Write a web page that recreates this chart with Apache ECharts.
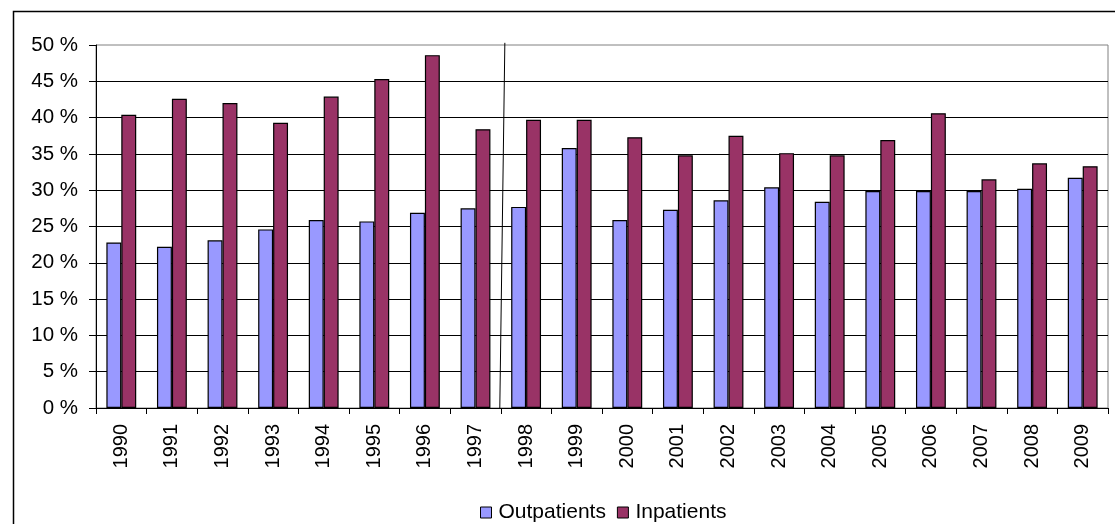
<!DOCTYPE html>
<html>
<head>
<meta charset="utf-8">
<script src="https://cdn.jsdelivr.net/npm/echarts@6/dist/echarts.min.js"></script>
<style>
html,body{margin:0;padding:0;background:#fff;}
#c{width:1115px;height:524px;}
</style>
</head>
<body>
<div id="c"></div>
<script>
const years = ['1990','1991','1992','1993','1994','1995','1996','1997','1998','1999','2000','2001','2002','2003','2004','2005','2006','2007','2008','2009'];
const outpatients = [22.8, 22.2, 23.1, 24.6, 25.9, 25.7, 26.9, 27.5, 27.7, 35.8, 25.9, 27.3, 28.6, 30.4, 28.4, 29.9, 29.9, 29.9, 30.2, 31.7];
const inpatients = [40.4, 42.6, 42.0, 39.3, 42.9, 45.3, 48.6, 38.4, 39.7, 39.7, 37.3, 34.8, 37.5, 35.1, 34.8, 36.9, 40.6, 31.5, 33.7, 33.3];
const yTicks = [0, 5, 10, 15, 20, 25, 30, 35, 40, 45, 50];
// divider line between 1997 and 1998 (x in category units, y in %)
const dividerX = [7.98, 8.08];
const dividerY = [0, 50.3];

const chart = echarts.init(document.getElementById('c'), null, {renderer: 'canvas'});
const font = 'Liberation Sans, Arial, sans-serif';
chart.setOption({
  backgroundColor: '#fff',
  animation: false,
  graphic: [{
    type: 'rect', left: 11, top: 9, silent: true, z: -1,
    shape: {width: 1120, height: 530},
    style: {fill: 'none', stroke: '#000', lineWidth: 1.5}
  }],
  grid: {left: 96, right: 7, top: 45, bottom: 116, show: true, borderColor: '#808080', borderWidth: 1, backgroundColor: 'transparent'},
  legend: {
    top: 497, left: 475,
    icon: 'rect', itemWidth: 11, itemHeight: 11, itemGap: 11,
    itemStyle: {borderColor: '#000', borderWidth: 1},
    textStyle: {fontFamily: font, fontSize: 21, color: '#000', padding: [0,0,0,2]},
    data: ['Outpatients', 'Inpatients']
  },
  xAxis: [{
    type: 'category', data: years, boundaryGap: true,
    axisLine: {lineStyle: {color: '#000', width: 1}},
    axisTick: {show: true, length: 6, lineStyle: {color: '#000'}},
    axisLabel: {rotate: 90, interval: 0, margin: 16, fontFamily: font, fontSize: 20, color: '#000'},
    splitLine: {show: false}
  }, {
    type: 'value', min: 0, max: 20, show: false
  }],
  yAxis: {
    type: 'value', min: 0, max: 50, interval: 5,
    axisLine: {show: true, lineStyle: {color: '#000', width: 1}},
    axisTick: {show: true, length: 7, lineStyle: {color: '#000'}},
    axisLabel: {margin: 18, fontFamily: font, fontSize: 20.5, color: '#000',
      formatter: v => yTicks.includes(v) ? v + ' %' : ''},
    splitLine: {show: true, showMaxLine: false, lineStyle: {color: '#000', width: 1}}
  },
  series: [{
    name: 'Outpatients', type: 'bar', data: outpatients,
    barGap: '0%', barCategoryGap: '41%',
    itemStyle: {color: '#9999FF', borderColor: '#000', borderWidth: 1.2}
  }, {
    name: 'Inpatients', type: 'bar', data: inpatients,
    barGap: '0%', barCategoryGap: '41%',
    itemStyle: {color: '#993366', borderColor: '#000', borderWidth: 1.2}
  }, {
    name: 'divider', type: 'line', xAxisIndex: 1, yAxisIndex: 0,
    data: dividerX.map((x, i) => [x, dividerY[i]]),
    symbol: 'none', clip: false, silent: true,
    lineStyle: {color: '#000', width: 1}, z: 5
  }]
});
</script>
</body>
</html>
